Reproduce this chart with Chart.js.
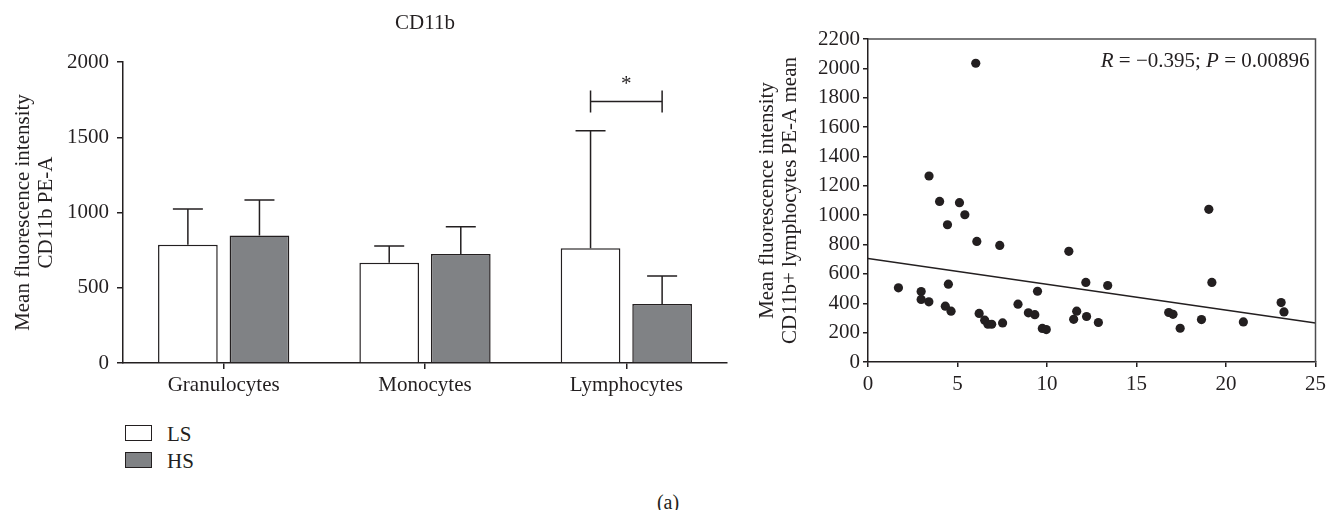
<!DOCTYPE html>
<html><head><meta charset="utf-8">
<script src="https://cdn.jsdelivr.net/npm/chart.js@4.4.1/dist/chart.umd.min.js"></script>
<style>
html,body{margin:0;padding:0;background:#fff;width:1331px;height:510px;overflow:hidden;font-family:"Liberation Serif",serif;color:#231f20;}
#barWrap{position:absolute;left:0;top:0;width:760px;height:410px;}
#scatWrap{position:absolute;left:700px;top:0;width:631px;height:410px;}
.legItem{position:absolute;left:125px;height:18px;font-size:21px;line-height:18px;}
.legBox{position:absolute;left:0;top:0;width:25px;height:14px;border:1.5px solid #231f20;}
.legText{position:absolute;left:42px;top:0;white-space:nowrap;}
#panel{position:absolute;left:668px;top:502px;transform:translate(-50%,-50%);font-size:20px;}
</style></head><body>
<div id="barWrap"><canvas id="bar"></canvas></div>
<div id="scatWrap"><canvas id="scat"></canvas></div>
<div id="legend"></div>
<div id="panel">(a)</div>
<script>
// ---- Bar chart data ----
const categories = ['Granulocytes', 'Monocytes', 'Lymphocytes'];
const seriesNames = ['LS', 'HS'];
const lsMeans = [786, 666, 762];
const lsErrTop = [1023, 777, 1543];
const hsMeans = [848, 724, 392];
const hsErrTop = [1083, 906, 578];
const barTicks = [0, 500, 1000, 1500, 2000];
const barTitle = 'CD11b';
const barYTitle = ['Mean fluorescence intensity', 'CD11b PE-A'];
const sigCategoryIndex = 2;
const sigBracketValue = 1738;
const sigStarValue = 1880;

// ---- Scatter data ----
const scatterX = [1.7, 2.97, 2.97, 3.4, 3.41, 4.0, 4.32, 4.44, 4.49, 4.64, 5.11, 5.41, 6.02, 6.08, 6.21, 6.52, 6.7, 6.91, 7.36, 7.52, 8.38, 8.96, 9.32, 9.47, 9.74, 9.96, 11.22, 11.49, 11.66, 12.17, 12.21, 12.87, 13.39, 16.8, 17.04, 17.44, 18.63, 19.04, 19.21, 20.97, 23.08, 23.24];
const scatterY = [505, 480, 426, 410, 1267, 1094, 380, 935, 530, 346, 1085, 1003, 2035, 821, 331, 285, 257, 257, 794, 266, 394, 335, 322, 482, 229, 221, 754, 291, 346, 542, 310, 269, 521, 337, 325, 230, 289, 1040, 542, 273, 405, 341];
const fitLineX = [0, 25];
const fitLineY = [705, 266];
const scatXTicks = [0, 5, 10, 15, 20, 25];
const scatYTicks = [0, 200, 400, 600, 800, 1000, 1200, 1400, 1600, 1800, 2000, 2200];
const scatYTitle = ['Mean fluorescence intensity', 'CD11b+ lymphocytes PE-A mean'];
const statText = [['R', true], [' = \u22120.395; ', false], ['P', true], [' = 0.00896', false]];

const INK = '#231f20';
const FONT = '"Liberation Serif", serif';
const FS = 21;
const lsColor = '#ffffff';
const hsColor = '#808285';
const plain = v => String(v);

// legend (HTML)
const legend = document.getElementById('legend');
[[seriesNames[0], lsColor, 425], [seriesNames[1], hsColor, 452]].forEach(([name, col, top]) => {
  const it = document.createElement('div');
  it.className = 'legItem'; it.style.top = top + 'px';
  it.innerHTML = '<div class="legBox" style="background:' + col + '"></div><div class="legText">' + name + '</div>';
  legend.appendChild(it);
});

const errorBars = {
  id: 'errorBars',
  afterDatasetsDraw(chart) {
    const ctx = chart.ctx, ys = chart.scales.y;
    [lsErrTop, hsErrTop].forEach((arr, di) => {
      chart.getDatasetMeta(di).data.forEach((bar, i) => {
        const x = bar.x, yt = ys.getPixelForValue(arr[i]), yb = bar.y;
        ctx.save();
        ctx.strokeStyle = INK; ctx.lineWidth = 1.5;
        ctx.beginPath();
        ctx.moveTo(x, yb); ctx.lineTo(x, yt);
        ctx.moveTo(x - 15, yt); ctx.lineTo(x + 15, yt);
        ctx.stroke();
        ctx.restore();
      });
    });
    // significance bracket
    const x1 = chart.getDatasetMeta(0).data[sigCategoryIndex].x;
    const x2 = chart.getDatasetMeta(1).data[sigCategoryIndex].x;
    const yb = ys.getPixelForValue(sigBracketValue);
    ctx.save();
    ctx.strokeStyle = INK; ctx.lineWidth = 1.5;
    ctx.beginPath();
    ctx.moveTo(x1, yb); ctx.lineTo(x2, yb);
    ctx.moveTo(x1, yb - 11); ctx.lineTo(x1, yb + 11);
    ctx.moveTo(x2, yb - 11); ctx.lineTo(x2, yb + 11);
    ctx.stroke();
    ctx.fillStyle = INK; ctx.font = FS + 'px ' + FONT;
    ctx.textAlign = 'center'; ctx.textBaseline = 'middle';
    ctx.fillText('*', (x1 + x2) / 2, ys.getPixelForValue(sigStarValue) + 4);
    // chart title
    const ca = chart.chartArea;
    ctx.fillText(barTitle, (ca.left + ca.right) / 2, 23);
    ctx.restore();
  }
};

new Chart(document.getElementById('bar'), {
  type: 'bar',
  data: {
    labels: categories,
    datasets: [
      { label: seriesNames[0], data: lsMeans, backgroundColor: lsColor, borderColor: INK, borderWidth: 1.5, categoryPercentage: 0.711, barPercentage: 0.834 },
      { label: seriesNames[1], data: hsMeans, backgroundColor: hsColor, borderColor: INK, borderWidth: 1.5, categoryPercentage: 0.711, barPercentage: 0.834 }
    ]
  },
  options: {
    responsive: true, maintainAspectRatio: false, animation: false,
    layout: { padding: { left: 11.5, top: 62, right: 33, bottom: 0 } },
    plugins: { legend: { display: false }, tooltip: { enabled: false } },
    scales: {
      x: {
        afterFit: s => { s.height = 47; },
        grid: { display: true, offset: false, drawOnChartArea: false, drawTicks: true, tickLength: 6, color: INK, lineWidth: 1.5 },
        border: { display: true, color: INK, width: 1.5 },
        ticks: { color: INK, font: { family: FONT, size: FS }, padding: 4, maxRotation: 0 }
      },
      y: {
        min: barTicks[0], max: barTicks[barTicks.length - 1],
        afterFit: s => { s.width = 123 - 11.5; },
        afterBuildTicks: s => { s.ticks = barTicks.map(v => ({ value: v })); },
        grid: { display: true, drawOnChartArea: false, drawTicks: true, tickLength: 6, color: INK, lineWidth: 1.5 },
        border: { display: true, color: INK, width: 1.5 },
        ticks: { color: INK, font: { family: FONT, size: FS }, padding: 8, callback: plain },
        title: { display: true, text: barYTitle, color: INK, font: { family: FONT, size: FS, lineHeight: 1.1 }, padding: 0 }
      }
    }
  },
  plugins: [errorBars]
});

const scatDeco = {
  id: 'scatDeco',
  afterDraw(chart) {
    const ctx = chart.ctx, ca = chart.chartArea;
    ctx.save();
    ctx.strokeStyle = '#4d4d4f'; ctx.lineWidth = 1.5;
    ctx.beginPath();
    ctx.moveTo(ca.left, ca.top); ctx.lineTo(ca.right, ca.top); ctx.lineTo(ca.right, ca.bottom);
    ctx.stroke();
    // statistics text, right aligned
    ctx.fillStyle = INK; ctx.textBaseline = 'middle';
    const fontFor = it => (it ? 'italic ' : '') + FS + 'px ' + FONT;
    let total = 0;
    statText.forEach(([t, it]) => { ctx.font = fontFor(it); total += ctx.measureText(t).width; });
    let x = ca.right - 6 - total;
    statText.forEach(([t, it]) => { ctx.font = fontFor(it); ctx.fillText(t, x, 61); x += ctx.measureText(t).width; });
    ctx.restore();
  }
};

new Chart(document.getElementById('scat'), {
  type: 'scatter',
  data: {
    datasets: [
      { type: 'scatter', data: scatterX.map((x, i) => ({ x, y: scatterY[i] })), backgroundColor: INK, borderColor: INK, pointRadius: 4.6, borderWidth: 0, order: 1 },
      { type: 'line', data: fitLineX.map((x, i) => ({ x, y: fitLineY[i] })), borderColor: INK, borderWidth: 1.5, pointRadius: 0, fill: false, order: 2 }
    ]
  },
  options: {
    responsive: true, maintainAspectRatio: false, animation: false,
    layout: { padding: { left: 56, top: 39, right: 13, bottom: 0 } },
    plugins: { legend: { display: false }, tooltip: { enabled: false } },
    scales: {
      x: {
        type: 'linear', min: scatXTicks[0], max: scatXTicks[scatXTicks.length - 1],
        afterFit: s => { s.height = 48; },
        afterBuildTicks: s => { s.ticks = scatXTicks.map(v => ({ value: v })); },
        grid: { display: true, drawOnChartArea: false, drawTicks: true, tickLength: 5, color: INK, lineWidth: 1.5 },
        border: { display: true, color: INK, width: 1.5 },
        ticks: { color: INK, font: { family: FONT, size: FS }, padding: 5, maxRotation: 0, callback: plain }
      },
      y: {
        min: scatYTicks[0], max: scatYTicks[scatYTicks.length - 1],
        afterFit: s => { s.width = 168 - 56; },
        afterBuildTicks: s => { s.ticks = scatYTicks.map(v => ({ value: v })); },
        grid: { display: true, drawOnChartArea: false, drawTicks: true, tickLength: 5, color: INK, lineWidth: 1.5 },
        border: { display: true, color: INK, width: 1.5 },
        ticks: { color: INK, font: { family: FONT, size: FS }, padding: 3, callback: plain },
        title: { display: true, text: scatYTitle, color: INK, font: { family: FONT, size: FS, lineHeight: 1.1 }, padding: 0 }
      }
    }
  },
  plugins: [scatDeco]
});
</script>
</body></html>
